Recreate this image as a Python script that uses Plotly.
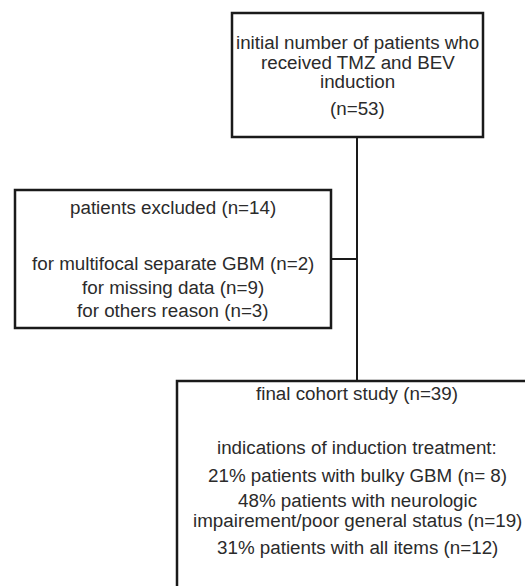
import plotly.graph_objects as go

# Flowchart content
top_lines = ["initial number of patients who", "received TMZ and BEV", "induction", "(n=53)"]
top_y = [42, 62, 81, 108]

excl_lines = ["patients excluded (n=14)", "for multifocal separate GBM (n=2)",
              "for missing data (n=9)", "for others reason (n=3)"]
excl_y = [207, 263, 287, 310]

final_lines = ["final cohort study (n=39)", "indications of induction treatment:",
               "21% patients with bulky GBM (n= 8)", "48% patients with neurologic",
               "impairement/poor general status (n=19)", "31% patients with all items (n=12)"]
final_y = [393, 447, 475, 500, 520, 547]

# Box geometry (pixel-space)
top_box = (232, 13, 483, 137)
excl_box = (15, 190, 331, 328)
final_box = (177, 381, 540, 600)
main_x = 357
branch_y = 259

W, H = 525, 586
TXT = "#2b2b2b"
LINE = "#1a1a1a"
FONT = "Liberation Sans, Arial, sans-serif"
FS = 18.8

fig = go.Figure()
fig.add_trace(go.Scatter(x=[0, W], y=[0, H], mode="markers",
                         marker=dict(opacity=0), hoverinfo="skip", showlegend=False))

shapes = []
for (x0, y0, x1, y1) in [top_box, excl_box, final_box]:
    shapes.append(dict(type="rect", xref="x", yref="y", x0=x0, y0=y0, x1=x1, y1=y1,
                       line=dict(color=LINE, width=2.5), fillcolor="rgba(0,0,0,0)"))
shapes.append(dict(type="line", xref="x", yref="y", x0=main_x, y0=top_box[3],
                   x1=main_x, y1=final_box[1], line=dict(color=LINE, width=2)))
shapes.append(dict(type="line", xref="x", yref="y", x0=excl_box[2], y0=branch_y,
                   x1=main_x, y1=branch_y, line=dict(color=LINE, width=2)))

annotations = []
def add_lines(lines, ys, cx):
    for t, y in zip(lines, ys):
        annotations.append(dict(x=cx, y=y, xref="x", yref="y", text=t, showarrow=False,
                                xanchor="center", yanchor="middle",
                                font=dict(family=FONT, size=FS, color=TXT)))

add_lines(top_lines, top_y, (top_box[0] + top_box[2]) / 2)
add_lines(excl_lines, excl_y, (excl_box[0] + excl_box[2]) / 2)
add_lines(final_lines, final_y, main_x)

fig.update_layout(
    width=W, height=H, margin=dict(l=0, r=0, t=0, b=0),
    paper_bgcolor="white", plot_bgcolor="white",
    xaxis=dict(range=[0, W], visible=False, fixedrange=True),
    yaxis=dict(range=[H, 0], visible=False, fixedrange=True),
    shapes=shapes, annotations=annotations, showlegend=False,
)

fig.write_html("out.html", config={"displayModeBar": False},
               post_script="document.body.style.margin='0';document.body.style.overflow='hidden';")
